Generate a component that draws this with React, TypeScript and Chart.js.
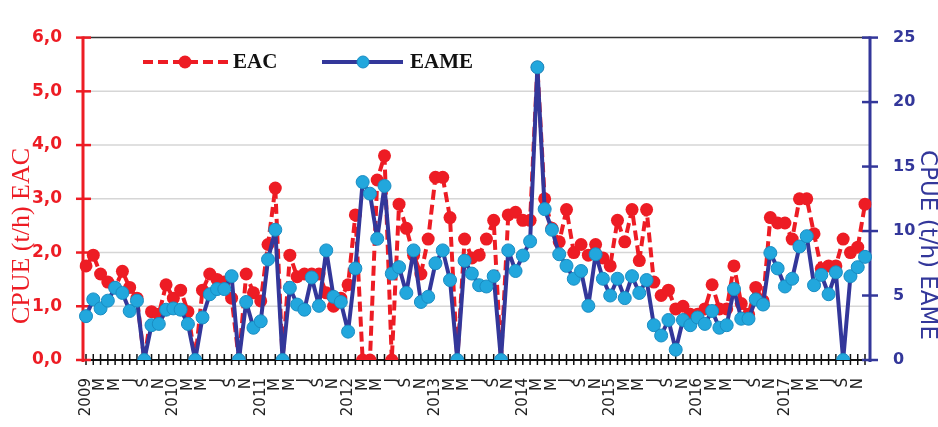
import React, { useEffect, useRef } from "react";
import { Chart, registerables } from "chart.js";

Chart.register(...registerables);

const years = ["2009", "2010", "2011", "2012", "2013", "2014", "2015", "2016", "2017"];
const monthInitials = ["", "F", "M", "A", "M", "J", "J", "A", "S", "O", "N", "D"];
const categories: string[] = years.flatMap((y) => monthInitials.map((m, i) => (i === 0 ? y : m)));

const eacValues = [
  1.75, 1.95, 1.6, 1.45, 1.35, 1.65, 1.35, 1.15, 0, 0.9, 0.85, 1.4,
  1.15, 1.3, 0.9, 0, 1.3, 1.6, 1.5, 1.45, 1.15, 0, 1.6, 1.25,
  1.1, 2.15, 3.2, 0, 1.95, 1.55, 1.6, 1.6, 1.6, 1.25, 1.0, 1.15,
  1.4, 2.7, 0, 0, 3.35, 3.8, 0, 2.9, 2.45, 1.95, 1.6, 2.25,
  3.4, 3.4, 2.65, 0, 2.25, 1.9, 1.95, 2.25, 2.6, 0, 2.7, 2.75,
  2.6, 2.6, 5.45, 3.0, 2.45, 2.2, 2.8, 2.0, 2.15, 1.95, 2.15, 1.9,
  1.75, 2.6, 2.2, 2.8, 1.85, 2.8, 1.45, 1.2, 1.3, 0.95, 1.0, 0.85,
  0.85, 0.95, 1.4, 0.95, 0.95, 1.75, 1.05, 0.85, 1.35, 1.1, 2.65, 2.55,
  2.55, 2.25, 3.0, 3.0, 2.35, 1.7, 1.75, 1.75, 2.25, 2.0, 2.1, 2.9,
];

const eameValues = [
  3.4, 4.7, 4.0, 4.6, 5.6, 5.2, 3.8, 4.6, 0, 2.7, 2.8, 3.9,
  4.0, 3.9, 2.8, 0, 3.3, 5.1, 5.5, 5.5, 6.5, 0, 4.5, 2.5,
  3.0, 7.8, 10.1, 0, 5.6, 4.3, 3.9, 6.4, 4.2, 8.5, 4.9, 4.5,
  2.2, 7.1, 13.8, 12.9, 9.4, 13.5, 6.7, 7.2, 5.2, 8.5, 4.5, 4.9,
  7.5, 8.5, 6.2, 0, 7.7, 6.7, 5.8, 5.7, 6.5, 0, 8.5, 6.9,
  8.1, 9.2, 22.7, 11.7, 10.1, 8.2, 7.3, 6.3, 6.9, 4.2, 8.2, 6.3,
  5.0, 6.3, 4.8, 6.5, 5.2, 6.2, 2.7, 1.9, 3.1, 0.8, 3.1, 2.7,
  3.3, 2.8, 3.8, 2.5, 2.7, 5.5, 3.2, 3.2, 4.7, 4.3, 8.3, 7.1,
  5.7, 6.3, 8.8, 9.6, 5.8, 6.6, 5.1, 6.8, 0, 6.5, 7.2, 8.0,
];

const leftTicks = [0, 1, 2, 3, 4, 5, 6];
const rightTicks = [0, 5, 10, 15, 20, 25];

const RED = "#ED1C24";
const BLUE = "#33379A";
const CYAN = "#22A7DD";
const CYAN_EDGE = "#1A8CC2";

const decorPlugin = {
  id: "decor",
  beforeDatasetsDraw(chart: any) {
    const { ctx, chartArea: ca, scales } = chart;
    const yL = scales.y;
    const x = scales.x;
    const axL = ca.left - 3;
    const axR = ca.right + 5;
    const line = (x1: number, y1: number, x2: number, y2: number) => {
      ctx.beginPath();
      ctx.moveTo(x1, y1);
      ctx.lineTo(x2, y2);
      ctx.stroke();
    };
    ctx.save();
    ctx.strokeStyle = "#d6d6d6";
    ctx.lineWidth = 1.5;
    leftTicks.forEach((v) => {
      if (v === 0 || v === 6) return;
      const y = yL.getPixelForValue(v);
      line(axL, y, axR, y);
    });
    ctx.strokeStyle = "#333";
    ctx.lineWidth = 1.5;
    const yTop = yL.getPixelForValue(6);
    line(axL, yTop, axR, yTop);
    const y0 = yL.getPixelForValue(0);
    ctx.strokeStyle = "#111";
    ctx.lineWidth = 2;
    line(axL, y0, axR, y0);
    ctx.lineWidth = 1.5;
    categories.forEach((_, i) => {
      const px = x.getPixelForValue(i);
      line(px, y0 - 6, px, y0 + 5);
    });
    ctx.strokeStyle = RED;
    ctx.lineWidth = 3;
    line(axL, yTop - 1, axL, y0 + 2);
    ctx.lineWidth = 2.5;
    leftTicks.forEach((v) => {
      const y = yL.getPixelForValue(v);
      line(axL - 7, y, axL + 8, y);
    });
    const yR = scales.y1;
    ctx.strokeStyle = BLUE;
    ctx.lineWidth = 3;
    line(axR, yTop - 1, axR, y0 + 2);
    ctx.lineWidth = 2.5;
    rightTicks.forEach((v) => {
      const y = yR.getPixelForValue(v);
      line(axR - 8, y, axR + 8, y);
    });
    ctx.restore();
  },
  afterDraw(chart: any) {
    const { ctx } = chart;
    ctx.save();
    ctx.fillStyle = RED;
    ctx.font = '26px "Liberation Serif"';
    ctx.textAlign = "center";
    ctx.textBaseline = "middle";
    ctx.translate(22, 236);
    ctx.rotate(-Math.PI / 2);
    ctx.fillText("CPUE (t/h) EAC", 0, 0);
    ctx.restore();

    ctx.save();
    ctx.fillStyle = BLUE;
    ctx.font = '23px "DejaVu Sans"';
    ctx.textAlign = "center";
    ctx.textBaseline = "middle";
    ctx.translate(927, 245);
    ctx.rotate(Math.PI / 2);
    ctx.fillText("CPUE (t/h) EAME", 0, 0);
    ctx.restore();

    ctx.save();
    const ly = 62;
    ctx.lineWidth = 4;
    ctx.strokeStyle = RED;
    ctx.setLineDash([10, 5]);
    ctx.beginPath();
    ctx.moveTo(143, ly);
    ctx.lineTo(228, ly);
    ctx.stroke();
    ctx.setLineDash([]);
    ctx.fillStyle = RED;
    ctx.beginPath();
    ctx.arc(185, ly, 6.5, 0, Math.PI * 2);
    ctx.fill();

    ctx.strokeStyle = BLUE;
    ctx.beginPath();
    ctx.moveTo(322, ly);
    ctx.lineTo(403, ly);
    ctx.stroke();
    ctx.fillStyle = CYAN;
    ctx.strokeStyle = CYAN_EDGE;
    ctx.lineWidth = 1;
    ctx.beginPath();
    ctx.arc(363, ly, 6, 0, Math.PI * 2);
    ctx.fill();
    ctx.stroke();

    ctx.fillStyle = "#111";
    ctx.font = 'bold 21px "Liberation Serif"';
    ctx.textAlign = "left";
    ctx.textBaseline = "middle";
    ctx.fillText("EAC", 233, ly + 1);
    ctx.fillText("EAME", 410, ly + 1);
    ctx.restore();
  },
};

export default function App() {
  const canvasRef = useRef<HTMLCanvasElement | null>(null);

  useEffect(() => {
    document.body.style.margin = "0";
    const canvas = canvasRef.current;
    if (!canvas) return;
    const chart = new Chart(canvas, {
      type: "line",
      data: {
        labels: categories,
        datasets: [
          {
            label: "EAME",
            data: eameValues,
            yAxisID: "y1",
            borderColor: BLUE,
            borderWidth: 4,
            borderJoinStyle: "round",
            borderCapStyle: "round",
            pointRadius: 6.5,
            pointBackgroundColor: CYAN,
            pointBorderColor: CYAN_EDGE,
            pointBorderWidth: 1,
            tension: 0,
            order: 0,
          },
          {
            label: "EAC",
            data: eacValues,
            yAxisID: "y",
            borderColor: RED,
            borderWidth: 4,
            borderDash: [10, 5],
            borderJoinStyle: "round",
            pointRadius: 6.5,
            pointBackgroundColor: RED,
            pointBorderColor: RED,
            pointBorderWidth: 0,
            tension: 0,
            order: 1,
          },
        ],
      },
      options: {
        responsive: false,
        animation: false,
        layout: { padding: { top: 15, left: 0, right: 0, bottom: 0 } },
        plugins: {
          legend: { display: false },
          tooltip: { enabled: false },
        },
        scales: {
          x: {
            type: "category",
            offset: false,
            grid: { display: false, drawTicks: false },
            border: { display: false },
            afterFit: (s: any) => {
              s.height = 67;
            },
            ticks: {
              autoSkip: false,
              maxRotation: 90,
              minRotation: 90,
              padding: 18,
              color: "#222",
              font: { family: "DejaVu Sans", size: 15 },
              callback: (_v: any, i: number) => (i % 2 === 0 ? categories[i] : ""),
            },
          },
          y: {
            position: "left",
            min: 0,
            max: 6,
            grid: { display: false, drawTicks: false },
            border: { display: false },
            afterFit: (s: any) => {
              s.width = 86;
            },
            ticks: {
              stepSize: 1,
              padding: 24,
              color: RED,
              font: { family: "DejaVu Sans", size: 17, weight: "bold" },
              callback: (v: any) => Number(v).toFixed(1).replace(".", ","),
            },
          },
          y1: {
            position: "right",
            min: 0,
            max: 25,
            grid: { display: false, drawTicks: false },
            border: { display: false },
            afterFit: (s: any) => {
              s.width = 73;
            },
            ticks: {
              stepSize: 5,
              padding: 28,
              color: BLUE,
              font: { family: "DejaVu Sans", size: 16, weight: "bold" },
            },
          },
        },
      },
      plugins: [decorPlugin],
    } as any);
    return () => chart.destroy();
  }, []);

  return (
    <div style={{ position: "fixed", left: 0, top: 0, width: 938, height: 427, background: "#fff" }}>
      <canvas ref={canvasRef} width={938} height={427} />
    </div>
  );
}
